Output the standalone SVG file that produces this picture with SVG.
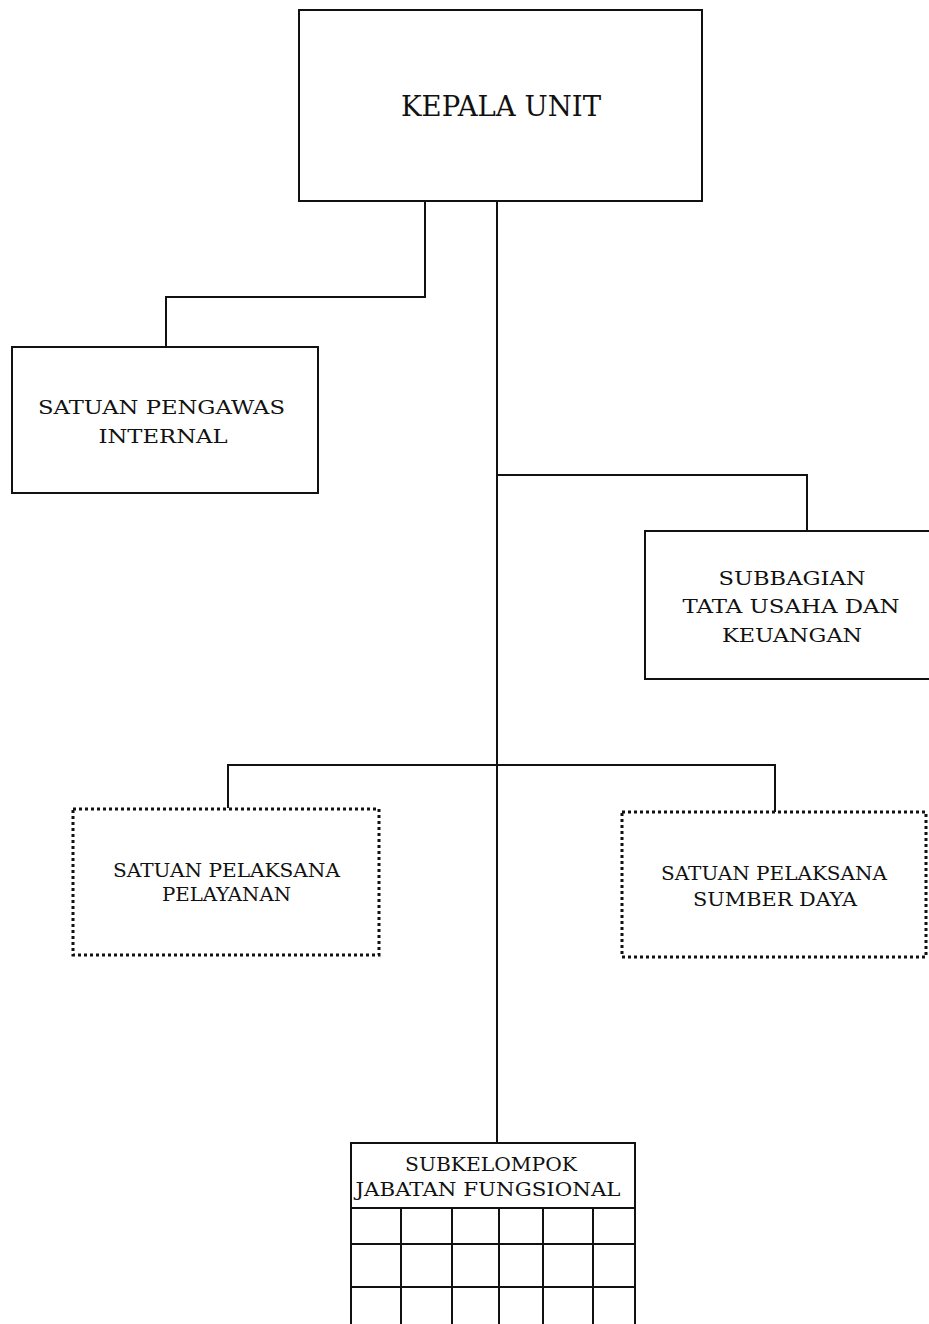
<svg xmlns="http://www.w3.org/2000/svg" width="929" height="1324" viewBox="0 0 929 1324">
<style>
.box{fill:#fff;stroke:#111;stroke-width:2}
.dot{fill:#fff;stroke:#111;stroke-width:3;stroke-dasharray:3 3}
.ln{fill:none;stroke:#111;stroke-width:2}
.t{font-family:"DejaVu Serif","Liberation Serif",serif;fill:#111;text-anchor:middle}
.s{font-size:18px}
</style>
<rect width="929" height="1324" fill="#fff"/>
<g id="connectors">
<polyline class="ln" points="425,201 425,297 166,297 166,347"/>
<line class="ln" x1="497" y1="201" x2="497" y2="1142"/>
<polyline class="ln" points="497,475 807,475 807,531"/>
<polyline class="ln" points="228,808 228,765 775,765 775,812"/>
</g>
<g id="kepala-unit">
<rect class="box" x="299" y="10" width="403" height="191"/>
<text class="t" x="501" y="116" font-size="27" textLength="200" lengthAdjust="spacingAndGlyphs">KEPALA UNIT</text>
</g>
<g id="satuan-pengawas-internal">
<rect class="box" x="12" y="347" width="306" height="146"/>
<text class="t s" x="161.5" y="414" textLength="247" lengthAdjust="spacingAndGlyphs">SATUAN PENGAWAS</text>
<text class="t s" x="163" y="443" textLength="129" lengthAdjust="spacingAndGlyphs">INTERNAL</text>
</g>
<g id="subbagian-tata-usaha">
<rect class="box" x="645" y="531" width="290" height="148"/>
<text class="t s" x="792" y="585" textLength="147" lengthAdjust="spacingAndGlyphs">SUBBAGIAN</text>
<text class="t s" x="791" y="613" textLength="217" lengthAdjust="spacingAndGlyphs">TATA USAHA DAN</text>
<text class="t s" x="792" y="642" textLength="140" lengthAdjust="spacingAndGlyphs">KEUANGAN</text>
</g>
<g id="satuan-pelaksana-pelayanan">
<rect class="dot" x="73" y="809" width="306" height="146"/>
<text class="t s" x="226.5" y="877" textLength="227" lengthAdjust="spacingAndGlyphs">SATUAN PELAKSANA</text>
<text class="t s" x="226.5" y="901" textLength="129" lengthAdjust="spacingAndGlyphs">PELAYANAN</text>
</g>
<g id="satuan-pelaksana-sumber-daya">
<rect class="dot" x="622" y="812" width="304" height="145"/>
<text class="t s" x="774" y="880" textLength="226" lengthAdjust="spacingAndGlyphs">SATUAN PELAKSANA</text>
<text class="t s" x="775" y="906" textLength="164" lengthAdjust="spacingAndGlyphs">SUMBER DAYA</text>
</g>
<g id="subkelompok-jabatan-fungsional">
<rect class="box" x="351" y="1143" width="284" height="190"/>
<text class="t s" x="491" y="1171" textLength="172" lengthAdjust="spacingAndGlyphs">SUBKELOMPOK</text>
<text class="t s" x="488" y="1196" textLength="265" lengthAdjust="spacingAndGlyphs">JABATAN FUNGSIONAL</text>
<line class="ln" x1="351" y1="1208" x2="635" y2="1208"/>
<line class="ln" x1="351" y1="1244" x2="635" y2="1244"/>
<line class="ln" x1="351" y1="1287" x2="635" y2="1287"/>
<line class="ln" x1="401" y1="1208" x2="401" y2="1324"/>
<line class="ln" x1="452" y1="1208" x2="452" y2="1324"/>
<line class="ln" x1="499" y1="1208" x2="499" y2="1324"/>
<line class="ln" x1="543" y1="1208" x2="543" y2="1324"/>
<line class="ln" x1="593" y1="1208" x2="593" y2="1324"/>
</g>
</svg>
